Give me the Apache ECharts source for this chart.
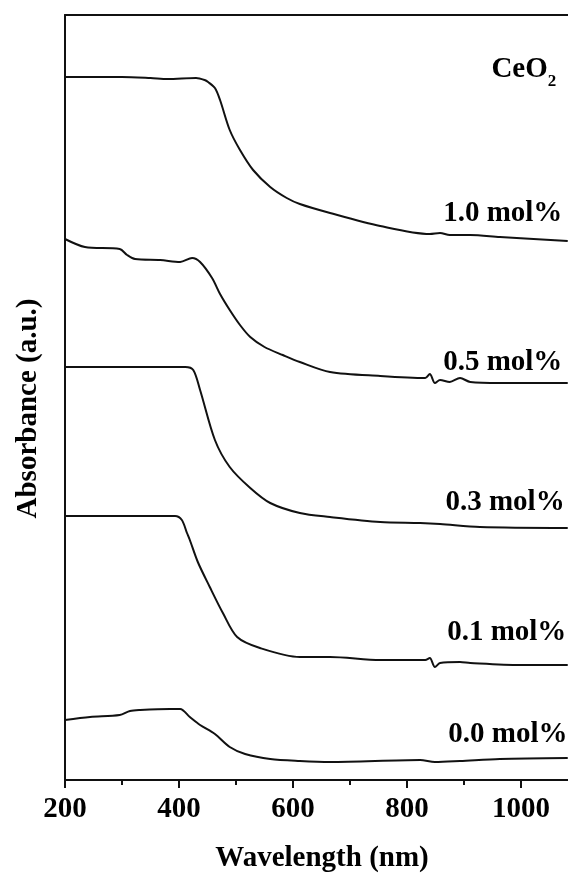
<!DOCTYPE html>
<html>
<head>
<meta charset="utf-8">
<script src="https://cdn.jsdelivr.net/npm/echarts@6/dist/echarts.min.js"></script>
<style>html,body{margin:0;padding:0;background:#fff;overflow:hidden;}#c{width:568px;height:876px;}</style>
</head>
<body>
<div id="c"></div>
<script>
// Wavelength (nm) / absorbance (arbitrary, stacked offsets)
const wl_10  = [200,300,350,380,430,445,451,463,472,489,507,530,560,589,612,665,753,840,858,875,911,963,1082];
const abs_10 = [703,703,702,701,702,700,698,692,680,650,630,610,593,582,576,567,554,546,547,545,545,543,539];

const wl_05  = [200,235,296,309,323,367,402,423,437,458,472,489,507,525,550,582,612,665,753,832,840,849,858,875,893,911,963,1082];
const abs_05 = [541,533,531,525,521,520,518,522,518,502,486,470,455,443,433,425,418,408,404,402,406,397,400,398,402,398,397,397];

const wl_03  = [200,296,411,425,437,463,489,525,560,612,665,753,823,858,928,1082];
const abs_03 = [413,413,413,410,390,340,313,292,277,267,263,258,257,256,253,252];

const wl_01  = [200,393,405,414,419,433,454,477,502,542,612,665,753,832,840,849,858,893,911,998,1082];
const abs_01 = [264,264,260,247,240,218,193,167,143,132,123,123,120,120,122,113,117,118,117,115,115];

const wl_00  = [200,244,296,314,332,384,402,419,437,463,489,516,560,612,665,823,849,893,963,1082];
const abs_00 = [60,63,65,69,70,71,71,63,55,46,33,26,21,19,18,20,18,19,21,22];

const seriesNames = ['1.0 mol%','0.5 mol%','0.3 mol%','0.1 mol%','0.0 mol%'];
const seriesWl  = [wl_10, wl_05, wl_03, wl_01, wl_00];
const seriesAbs = [abs_10, abs_05, abs_03, abs_01, abs_00];

// text annotations: [text, wavelength, absorbance]
const labelTexts = ['{b|CeO}{s|2}','1.0 mol%','0.5 mol%','0.3 mol%','0.1 mol%','0.0 mol%'];
const labelWl    = [1005, 968, 968, 972, 975, 977];
const labelAbs   = [710, 566, 417, 277, 147, 45];

const xTicks = [200, 400, 600, 800, 1000];

const FONT = '"Liberation Serif","Times New Roman",serif';
const chart = echarts.init(document.getElementById('c'), null, {renderer:'canvas'});

const series = seriesNames.map((n, i) => ({
  name: n, type: 'line', showSymbol: false, symbol: 'none', smooth: 0.3,
  lineStyle: {color: '#111', width: 2}, animation: false,
  data: seriesWl[i].map((w, k) => [w, seriesAbs[i][k]])
}));

series.push({
  type: 'scatter', symbolSize: 0, animation: false, silent: true,
  itemStyle: {opacity: 1},
  data: labelTexts.map((t, i) => ({value: [labelWl[i], labelAbs[i]], text: t})),
  label: {
    show: true, position: 'inside', formatter: p => p.data.text, opacity: 1,
    color: '#000', fontFamily: FONT, fontWeight: 'bold', fontSize: 29,
    rich: {
      b: {fontFamily: FONT, fontWeight: 'bold', fontSize: 29, color: '#000'},
      s: {fontFamily: FONT, fontWeight: 'bold', fontSize: 17, color: '#000', verticalAlign: 'bottom', padding: [24, 0, 0, 0]}
    }
  }
});

chart.setOption({
  animation: false,
  backgroundColor: '#fff',
  grid: {left: 65, top: 15, bottom: 96, right: -67, containLabel: false, outerBoundsMode: 'none'},
  xAxis: [{
    type: 'value', min: 200, max: 1200, interval: 200, position: 'bottom',
    name: 'Wavelength (nm)', nameLocation: 'middle', nameGap: 64,
    nameTextStyle: {fontFamily: FONT, fontWeight: 'bold', fontSize: 29, color: '#000', padding: [0, 56, 0, 0]},
    axisLine: {show: true, onZero: false, lineStyle: {color: '#111', width: 2}},
    axisTick: {show: true, inside: false, length: 8, lineStyle: {color: '#111', width: 2}},
    minorTick: {show: true, splitNumber: 2, length: 5, lineStyle: {color: '#111', width: 2}},
    axisLabel: {show: true, margin: 15, fontFamily: FONT, fontWeight: 'bold', fontSize: 29, color: '#000',
      formatter: v => xTicks.indexOf(v) >= 0 ? String(v) : ''},
    splitLine: {show: false}
  }, {
    type: 'value', min: 200, max: 1200, position: 'top',
    axisLine: {show: true, onZero: false, lineStyle: {color: '#111', width: 2}},
    axisTick: {show: false}, axisLabel: {show: false}, splitLine: {show: false}
  }],
  yAxis: {
    type: 'value', min: 0, max: 765,
    name: 'Absorbance (a.u.)', nameLocation: 'middle', nameGap: 22, nameRotate: 90,
    nameTextStyle: {fontFamily: FONT, fontWeight: 'bold', fontSize: 29, color: '#000', padding: [0, 22, 0, 0]},
    axisLine: {show: true, onZero: false, lineStyle: {color: '#111', width: 2}},
    axisTick: {show: false}, axisLabel: {show: false}, splitLine: {show: false}
  },
  series: series
});
</script>
</body>
</html>
